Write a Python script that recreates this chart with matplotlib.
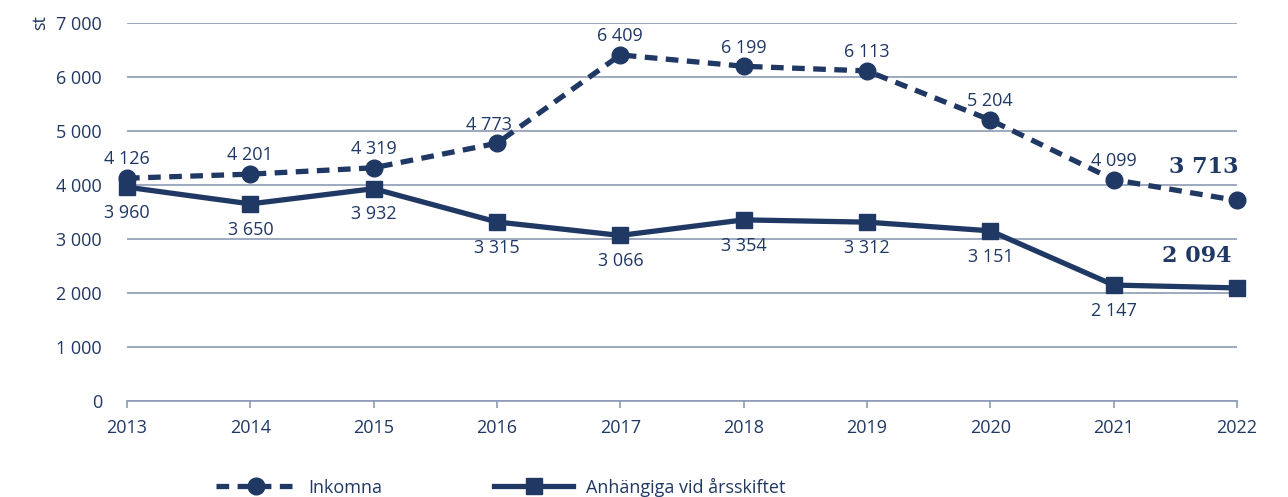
import matplotlib.pyplot as plt
from matplotlib.ticker import FuncFormatter

years = [2013, 2014, 2015, 2016, 2017, 2018, 2019, 2020, 2021, 2022]
inkomna = [4126, 4201, 4319, 4773, 6409, 6199, 6113, 5204, 4099, 3713]
anhangiga = [3960, 3650, 3932, 3315, 3066, 3354, 3312, 3151, 2147, 2094]

navy = "#203864"
grid_c = "#8c9bb5"

plt.rcParams["font.family"] = ["Open Sans", "DejaVu Sans"]

fig = plt.figure(figsize=(12.88, 4.97), dpi=100)
ax = fig.add_axes([0.0986, 0.1932, 0.8618, 0.7605])


def fmt(v):
    return f"{int(v):,}".replace(",", " ")


ax.plot(years, inkomna, color=navy, lw=3.8, ls=(0, (2.4, 1.6)), marker="o",
        ms=12, label="Inkomna", clip_on=False, zorder=3)
ax.plot(years, anhangiga, color=navy, lw=3.8, marker="s", ms=11,
        label="Anhängiga vid årsskiftet", clip_on=False, zorder=3)

ax.set_xlim(2013, 2022)
ax.set_ylim(0, 7000)
ax.set_xticks(years)
ax.set_yticks(range(0, 7001, 1000))
ax.yaxis.set_major_formatter(FuncFormatter(lambda v, p: fmt(v)))
ax.grid(axis="y", color=grid_c, lw=1.2)
ax.set_axisbelow(True)
for s in ["top", "right", "left"]:
    ax.spines[s].set_visible(False)
ax.spines["bottom"].set_color(grid_c)
ax.spines["bottom"].set_linewidth(1.2)
ax.tick_params(axis="y", length=0, pad=18, labelsize=13, labelcolor=navy)
ax.tick_params(axis="x", length=5, color=grid_c, width=1.2, pad=8,
               labelsize=13, labelcolor=navy)

for x, y in zip(years[:-1], inkomna[:-1]):
    dx = -6 if x == 2016 else 0
    ax.annotate(fmt(y), (x, y), xytext=(dx, 7), textcoords="offset points",
                ha="center", va="bottom", fontsize=13, color=navy)
for x, y in zip(years[:-1], anhangiga[:-1]):
    ax.annotate(fmt(y), (x, y), xytext=(0, -12), textcoords="offset points",
                ha="center", va="top", fontsize=13, color=navy)

ax.annotate(fmt(inkomna[-1]), (years[-1], inkomna[-1]), xytext=(-24, 16),
            textcoords="offset points", ha="center", va="bottom",
            fontsize=16, fontweight="bold", color=navy,
            family="DejaVu Serif")
ax.annotate(fmt(anhangiga[-1]), (years[-1], anhangiga[-1]), xytext=(-29, 15),
            textcoords="offset points", ha="center", va="bottom",
            fontsize=16, fontweight="bold", color=navy,
            family="DejaVu Serif")

fig.text(0.031, 0.955, "st", rotation=90, ha="center", va="center",
         fontsize=13, color=navy)

leg = fig.legend(loc="lower left", bbox_to_anchor=(0.155, -0.032), ncol=2,
                 frameon=False, fontsize=13, handlelength=4.4,
                 columnspacing=6.2, handletextpad=0.7)
for t in leg.get_texts():
    t.set_color(navy)

fig.savefig("out.png", dpi=100)
